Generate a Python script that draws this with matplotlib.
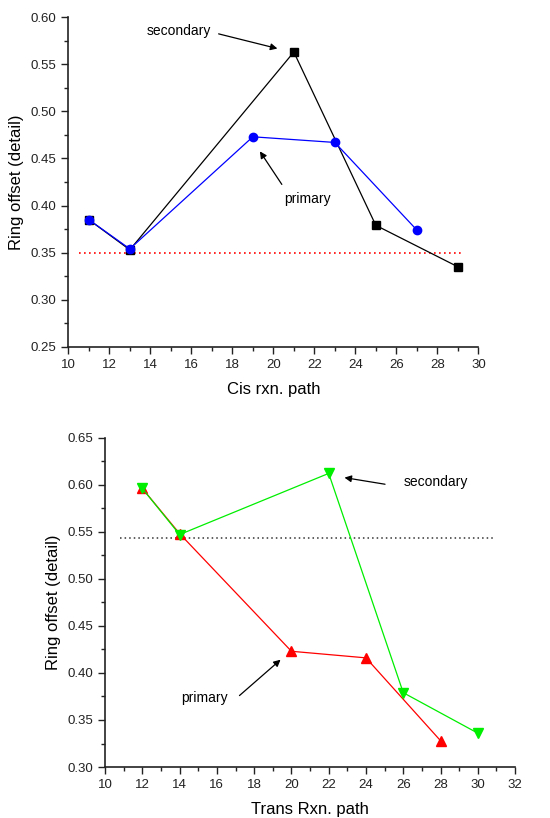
import matplotlib
matplotlib.use("Agg")
import matplotlib.pyplot as plt
from matplotlib.ticker import MultipleLocator, FormatStrFormatter

plt.rcParams['font.family'] = ['Liberation Sans', 'DejaVu Sans']

# Top panel (Cis)
cis_secondary_x = [11, 13, 21, 25, 29]
cis_secondary_y = [0.385, 0.353, 0.563, 0.379, 0.335]
cis_primary_x = [11, 13, 19, 23, 27]
cis_primary_y = [0.385, 0.354, 0.473, 0.467, 0.374]
cis_ref_y = 0.35
cis_ref_x = [10.5, 29.2]

# Bottom panel (Trans)
trans_primary_x = [12, 14, 20, 24, 28]
trans_primary_y = [0.596, 0.548, 0.423, 0.416, 0.328]
trans_secondary_x = [12, 14, 22, 26, 30]
trans_secondary_y = [0.596, 0.547, 0.612, 0.379, 0.336]
trans_ref_y = 0.543
trans_ref_x = [10.8, 30.9]

fig = plt.figure(figsize=(5.5, 8.18), dpi=100)

def style(ax, xmin, xmax, ymin, ymax):
    ax.set_xlim(xmin, xmax)
    ax.set_ylim(ymin, ymax)
    ax.spines['top'].set_visible(False)
    ax.spines['right'].set_visible(False)
    ax.xaxis.set_major_locator(MultipleLocator(2))
    ax.xaxis.set_minor_locator(MultipleLocator(1))
    ax.yaxis.set_major_locator(MultipleLocator(0.05))
    ax.yaxis.set_minor_locator(MultipleLocator(0.025))
    ax.yaxis.set_major_formatter(FormatStrFormatter('%.2f'))
    ax.tick_params(which='major', direction='out', length=5, width=1, labelsize=9.5, colors='#222222')
    ax.tick_params(which='minor', direction='out', length=3, width=1, colors='#222222')
    for s in ('left', 'bottom'):
        ax.spines[s].set_linewidth(1.2)
        ax.spines[s].set_color('#222222')

# Top
ax1 = fig.add_axes([0.1242, 0.576, 0.7455, 0.403])
style(ax1, 10, 30, 0.25, 0.60)
ax1.plot(cis_ref_x, [cis_ref_y, cis_ref_y], color='red', linestyle=(0, (1, 2)), linewidth=1.2)
ax1.plot(cis_secondary_x, cis_secondary_y, color='black', linewidth=0.9,
         marker='s', markersize=6, markerfacecolor='black', markeredgecolor='black')
ax1.plot(cis_primary_x, cis_primary_y, color='blue', linewidth=0.9,
         marker='o', markersize=6, markerfacecolor='blue', markeredgecolor='blue')
ax1.set_xlabel('Cis rxn. path', fontsize=12, labelpad=8)
ax1.set_ylabel('Ring offset (detail)', fontsize=12, labelpad=5)
ax1.annotate('', xy=(20.33, 0.566), xytext=(17.2, 0.583),
             arrowprops=dict(arrowstyle='-|>', color='black', lw=0.9, mutation_scale=10))
ax1.text(15.4, 0.585, 'secondary', ha='center', va='center', fontsize=10)
ax1.annotate('', xy=(19.27, 0.460), xytext=(20.49, 0.420),
             arrowprops=dict(arrowstyle='-|>', color='black', lw=0.9, mutation_scale=10))
ax1.text(21.68, 0.407, 'primary', ha='center', va='center', fontsize=10)

# Bottom
ax2 = fig.add_axes([0.191, 0.0623, 0.7455, 0.4027])
style(ax2, 10, 32, 0.30, 0.65)
ax2.plot(trans_ref_x, [trans_ref_y, trans_ref_y], color='#333333', linestyle=(0, (1, 2)), linewidth=1.1)
ax2.plot(trans_primary_x, trans_primary_y, color='red', linewidth=0.9,
         marker='^', markersize=6.5, markerfacecolor='red', markeredgecolor='red')
ax2.plot(trans_secondary_x, trans_secondary_y, color='#00ee00', linewidth=0.9,
         marker='v', markersize=6.5, markerfacecolor='#00ee00', markeredgecolor='#00ee00')
ax2.set_xlabel('Trans Rxn. path', fontsize=12, labelpad=8)
ax2.set_ylabel('Ring offset (detail)', fontsize=12, labelpad=5)
ax2.annotate('', xy=(22.70, 0.608), xytext=(25.17, 0.600),
             arrowprops=dict(arrowstyle='-|>', color='black', lw=0.9, mutation_scale=10))
ax2.text(27.74, 0.603, 'secondary', ha='center', va='center', fontsize=10)
ax2.annotate('', xy=(19.53, 0.416), xytext=(17.10, 0.374),
             arrowprops=dict(arrowstyle='-|>', color='black', lw=0.9, mutation_scale=10))
ax2.text(15.36, 0.373, 'primary', ha='center', va='center', fontsize=10)

fig.savefig('out.png', dpi=100)
